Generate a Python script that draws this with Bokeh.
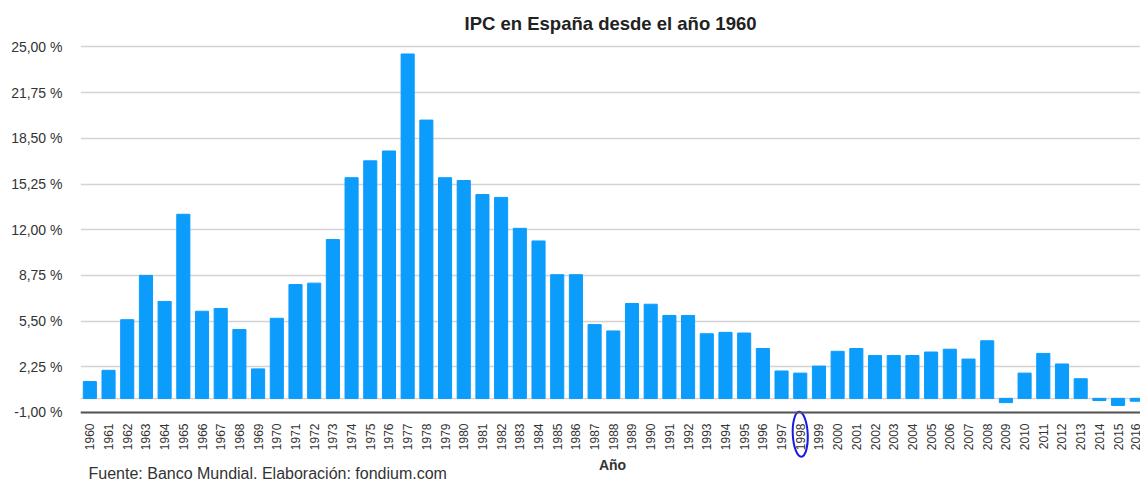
import math
from bokeh.plotting import figure
from bokeh.models import Range1d, FixedTicker, Span, Title, Label
from bokeh.embed import file_html
from bokeh.resources import INLINE

years = list(range(1960, 2017))
ipc = [1.2, 2.0, 5.6, 8.75, 6.9, 13.1, 6.2, 6.4, 4.9, 2.1,
       5.7, 8.1, 8.2, 11.3, 15.7, 16.9, 17.6, 24.5, 19.8, 15.7,
       15.5, 14.5, 14.3, 12.1, 11.2, 8.8, 8.8, 5.25, 4.8, 6.75,
       6.7, 5.9, 5.9, 4.6, 4.7, 4.65, 3.55, 1.95, 1.8, 2.3,
       3.35, 3.55, 3.05, 3.05, 3.05, 3.3, 3.5, 2.8, 4.1, -0.3,
       1.8, 3.2, 2.45, 1.4, -0.15, -0.5, -0.2]
y_ticks = [-1.0, 2.25, 5.5, 8.75, 12.0, 15.25, 18.5, 21.75, 25.0]
y_labels = ["-1,00 %", "2,25 %", "5,50 %", "8,75 %", "12,00 %",
            "15,25 %", "18,50 %", "21,75 %", "25,00 %"]
highlight_year = [1998]

FONT = "Liberation Sans"

# frame spans the full lower part of the canvas; the x axis sits at y = -1
p = figure(width=1140, height=481, output_backend="svg", toolbar_location=None,
           x_range=Range1d(1959.5, 2016.2), y_range=Range1d(-5.91, 25.46),
           min_border_left=80, min_border_right=0, min_border_top=40,
           min_border_bottom=0, outline_line_color=None)

p.title = Title(text="IPC en España desde el año 1960", align="center",
                text_font=FONT, text_font_size="18.5px", text_font_style="bold",
                text_color="#222222", standoff=13)

zero = Span(location=0, dimension="width", line_color="#D6D6D6", line_width=1.5,
            level="underlay")
p.add_layout(zero)

p.vbar(x=years, top=ipc, bottom=0, width=0.7, color="#0B9CFC")

# hand-drawn style highlight around the 1998 label
p.ellipse(x=highlight_year, y=[-2.55], width=0.8, height=3.2, angle=0.05,
          fill_color=None, line_color="#1A1AE6", line_width=2)

# Y axis
p.yaxis.ticker = FixedTicker(ticks=y_ticks)
p.yaxis.major_label_overrides = {t: l for t, l in zip(y_ticks, y_labels)}
p.yaxis.axis_line_color = None
p.yaxis.major_tick_line_color = None
p.yaxis.minor_tick_line_color = None
p.yaxis.major_label_text_font = FONT
p.yaxis.major_label_text_font_size = "14px"
p.yaxis.major_label_text_color = "#333333"
p.yaxis.major_label_standoff = 12

p.ygrid.ticker = FixedTicker(ticks=y_ticks)
p.ygrid.grid_line_color = "#D3D3D3"
p.ygrid.grid_line_width = 1.5
p.xgrid.grid_line_color = None

# X axis
p.xaxis.fixed_location = y_ticks[0]
p.xaxis.ticker = FixedTicker(ticks=years)
p.xaxis.major_label_overrides = {y: str(y) for y in years}
p.xaxis.major_label_orientation = math.pi / 2
p.xaxis.axis_line_color = "#555555"
p.xaxis.axis_line_width = 2
p.xaxis.major_tick_line_color = None
p.xaxis.minor_tick_line_color = None
p.xaxis.major_label_text_font = FONT
p.xaxis.major_label_text_font_size = "12px"
p.xaxis.major_label_text_color = "#333333"
p.xaxis.major_label_standoff = 5

# axis title and source note (screen units relative to the plot frame)
p.add_layout(Label(x=532, y=17, x_units="screen", y_units="screen", text="Año",
                   text_font=FONT, text_font_size="14px", text_font_style="bold",
                   text_color="#333333", text_align="center",
                   text_baseline="alphabetic"))
p.add_layout(Label(x=8, y=8, x_units="screen", y_units="screen",
                   text="Fuente: Banco Mundial. Elaboración: fondium.com",
                   text_font=FONT, text_font_size="16px",
                   text_color="#333333", text_align="left",
                   text_baseline="alphabetic"))

open("out.html", "w").write(file_html(p, INLINE))
